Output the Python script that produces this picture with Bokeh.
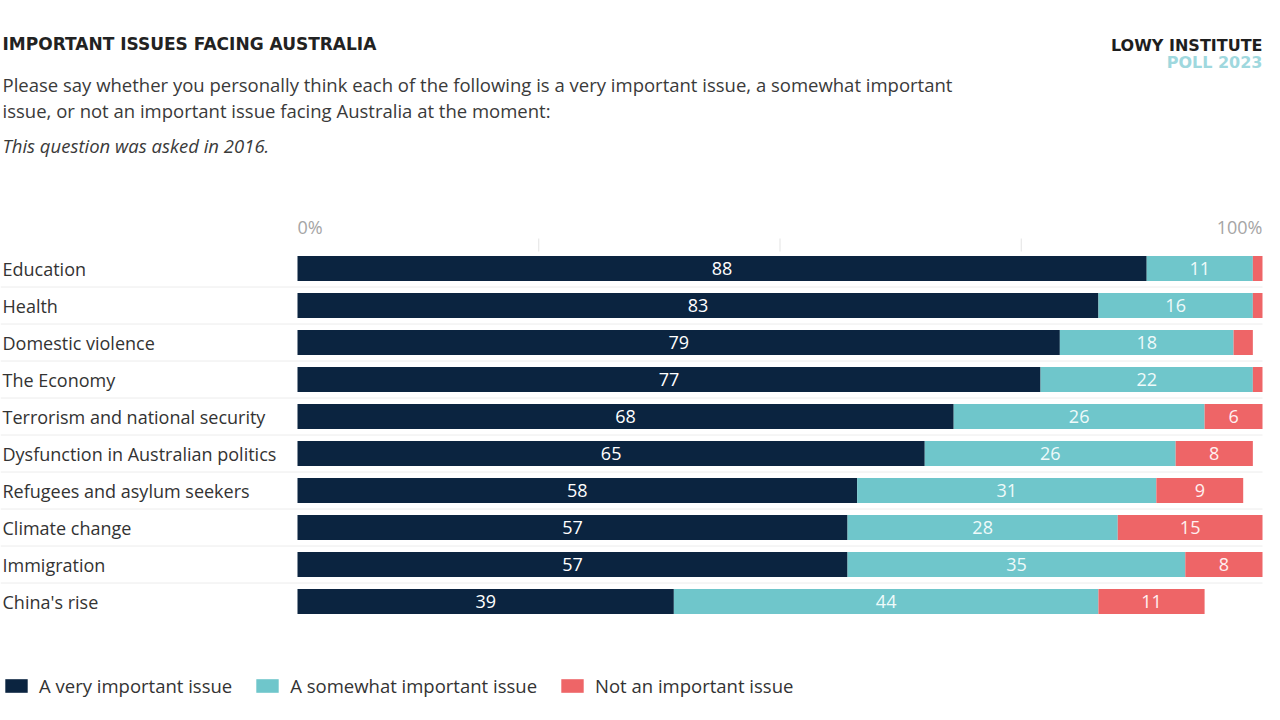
import pandas as pd
from bokeh.plotting import figure
from bokeh.models import ColumnDataSource, Range1d, Label, Legend
from bokeh.core.properties import value
from bokeh.embed import file_html
from bokeh.resources import INLINE

# ---- data ----
categories = ["Education", "Health", "Domestic violence", "The Economy",
              "Terrorism and national security", "Dysfunction in Australian politics",
              "Refugees and asylum seekers", "Climate change", "Immigration", "China's rise"]
very_important = [88, 83, 79, 77, 68, 65, 58, 57, 57, 39]
somewhat_important = [11, 16, 18, 22, 26, 26, 31, 28, 35, 44]
not_important = [1, 1, 2, 1, 6, 8, 9, 15, 8, 11]
series_names = ["A very important issue", "A somewhat important issue", "Not an important issue"]
axis_ticks = [0, 100]
axis_tick_labels = ["0%", "100%"]
grid_ticks = [25, 50, 75]

title_text = "IMPORTANT ISSUES FACING AUSTRALIA"
subtitle_1 = "Please say whether you personally think each of the following is a very important issue, a somewhat important"
subtitle_2 = "issue, or not an important issue facing Australia at the moment:"
note_text = "This question was asked in 2016."
brand_1 = "LOWY INSTITUTE"
brand_2 = "POLL 2023"

# ---- styling ----
FONT = "Open Sans"
BOLD_FONT = "DejaVu Sans"
DARK = "#0b2440"
TEAL = "#6fc6cb"
RED = "#ee6567"
colors = [DARK, TEAL, RED]

W, H = 1264, 704
X0_PX, PX_PER = 297.0, 9.65          # canvas x of 0% and pixels per percent
Y0_PX, ROW_PX = 268.0, 37.0          # canvas y of first row centre and row pitch

def px(cx):
    return (cx - X0_PX) / PX_PER

def py(cy):
    return (cy - Y0_PX) / ROW_PX

df = pd.DataFrame({
    "category": categories,
    "row": list(range(len(categories))),
    "very": very_important,
    "somewhat": somewhat_important,
    "not": not_important,
})
source = ColumnDataSource(df)

p = figure(width=W, height=H, output_backend="svg", toolbar_location=None,
           x_range=Range1d(px(0), px(W)), y_range=Range1d(py(H), py(0)),
           min_border=0, min_border_left=0, min_border_right=0,
           min_border_top=0, min_border_bottom=0)
p.axis.visible = False
p.grid.visible = False
p.outline_line_color = None
p.background_fill_color = "white"
p.border_fill_color = "white"

# row separators
n = len(categories)
sep_y = [i + 0.5 for i in range(n - 1)]
p.segment(x0=[px(0)] * len(sep_y), x1=[100] * len(sep_y), y0=sep_y, y1=sep_y,
          line_color="#ececec", line_width=1)

# grid tick marks at top
p.segment(x0=grid_ticks, x1=grid_ticks, y0=[py(238)] * 3, y1=[py(251)] * 3,
          line_color="#e3e3e3", line_width=1)

# stacked bars
renderers = p.hbar_stack(["very", "somewhat", "not"], y="row", height=25 / ROW_PX,
                         color=colors, line_color=None, source=source)

# value labels
lab_rows = []
cum = [0] * n
for key, vals, col in [("very", very_important, "#ffffff"),
                       ("somewhat", somewhat_important, "#eefafa"),
                       ("not", not_important, "#fff0f0")]:
    for i, v in enumerate(vals):
        if v >= 5:
            lab_rows.append({"x": cum[i] + v / 2, "y": i, "t": str(v), "c": col})
        cum[i] += v
lab_df = pd.DataFrame(lab_rows)
p.text(x="x", y="y", text="t", text_color="c", source=ColumnDataSource(lab_df),
       text_align="center", text_baseline="middle", text_font=value(FONT),
       text_font_size="18px")

# category labels
p.text(x=[px(2)] * n, y=list(range(n)), text=categories, text_align="left",
       text_baseline="middle", text_font=value(FONT), text_font_size="18px",
       text_color="#333333")

# axis labels 0% / 100%
p.text(x=axis_ticks, y=[py(226)] * 2, text=axis_tick_labels,
       text_align=["left", "right"], text_baseline="middle",
       text_font=value(FONT), text_font_size="18px", text_color="#a5a5a5")

# titles
def add_label(txt, cx, cy, size, color, style="normal", align="left", font=FONT):
    p.add_layout(Label(x=px(cx), y=py(cy), text=txt, text_font=font,
                       text_font_size=size, text_color=color, text_font_style=style,
                       text_align=align, text_baseline="middle"))

add_label(title_text, 2, 43, "17px", "#222222", "bold", font=BOLD_FONT)
add_label(subtitle_1, 2, 84, "18.5px", "#3a3a3a")
add_label(subtitle_2, 2, 110, "18.5px", "#3a3a3a")
add_label(note_text, 2, 145, "18.5px", "#3a3a3a", "italic")
add_label(brand_1, 1262, 45, "16px", "#1e1e1e", "bold", align="right", font=BOLD_FONT)
add_label(brand_2, 1262, 62, "16px", "#9fd8de", "bold", align="right", font=BOLD_FONT)

# legend
legend = Legend(items=[(name, [r]) for name, r in zip(series_names, renderers)],
                orientation="horizontal", location=(2, 6),
                glyph_width=28, glyph_height=17, label_standoff=9, spacing=21,
                padding=0, margin=0, border_line_color=None,
                background_fill_alpha=0, label_text_font=FONT,
                label_text_font_size="18.5px", label_text_color="#333333",
                label_height=20)
p.add_layout(legend)

open("out.html", "w").write(file_html(p, INLINE))
